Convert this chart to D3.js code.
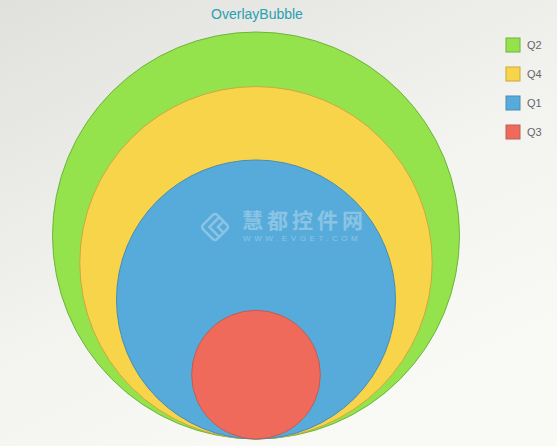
<!DOCTYPE html>
<meta charset="utf-8">
<style>
body{ margin:0; overflow:hidden; }
text{ font-family:"Liberation Sans", Arial, sans-serif; }
.title{ text-anchor:middle; font-size:14px; fill:#2aa0b3; }
.legend text{ font-size:11px; fill:#666; }
.bubble{ stroke-width:1px; }
</style>
<body>
<script src="https://d3js.org/d3.v7.min.js"></script>
<script>
var categories = ["Q1", "Q2", "Q3", "Q4"];
var values = [47, 100, 10, 75];
var colors = ["#57abda", "#95e34c", "#f06a5b", "#f8d44b"];
var strokes = ["#4a8cb3", "#6fb33c", "#b8605a", "#c9a93e"];

var width = 557, height = 446;
var cx = 256, baseY = 439, maxR = 203.5;

var svg = d3.select("body").append("svg").attr("width", width).attr("height", height);

var grad = svg.append("defs").append("linearGradient").attr("id", "bg")
    .attr("x1", "0%").attr("y1", "0%").attr("x2", "60%").attr("y2", "100%");
grad.append("stop").attr("offset", "0%").attr("stop-color", "#e0e0dc");
grad.append("stop").attr("offset", "60%").attr("stop-color", "#f3f3ef");
grad.append("stop").attr("offset", "100%").attr("stop-color", "#f9f9f6");
svg.append("rect").attr("width", width).attr("height", height).attr("fill", "url(#bg)");

svg.append("text").attr("class", "title").attr("x", 257).attr("y", 19).text("OverlayBubble");

var data = categories.map(function(c, i){
    return {name:c, value:values[i], color:colors[i], stroke:strokes[i]};
}).sort(function(a, b){ return b.value - a.value; });

var r = d3.scaleSqrt().domain([0, d3.max(values)]).range([0, maxR]);

svg.append("g").selectAll("circle").data(data).enter().append("circle")
    .attr("class", "bubble")
    .attr("cx", cx)
    .attr("cy", d=>baseY - r(d.value))
    .attr("r", d=>r(d.value))
    .attr("fill", d=>d.color)
    .attr("stroke", d=>d.stroke);

// watermark
var wm = svg.append("g").attr("opacity", 0.3).attr("fill", "#fff");
wm.append("text").attr("x", 242).attr("y", 228).style("font-size", "21px").style("font-weight", "bold")
    .style("font-family", "'Noto Sans CJK SC', sans-serif").style("letter-spacing", "4px").text("慧都控件网");
wm.append("text").attr("x", 243).attr("y", 241).style("font-size", "8px").style("letter-spacing", "3.6px").text("WWW.EVGET.COM");
var icon = wm.append("g").attr("transform", "translate(215,227) rotate(45)")
    .attr("fill", "none").attr("stroke", "#fff").attr("stroke-width", 2.5);
icon.append("rect").attr("x", -10).attr("y", -10).attr("width", 20).attr("height", 20).attr("rx", 3);
icon.append("path").attr("d", "M-4,-10 V4 H10 M2,-10 V-2 H10");
</script>
<script>
var legend = d3.select("svg").append("g").attr("class", "legend").selectAll("g")
    .data(categories.map((c, i)=>({name:c, value:values[i], color:colors[i], stroke:strokes[i]}))
        .sort((a, b)=>b.value - a.value))
    .enter().append("g")
    .attr("transform", (d, i)=>"translate(506," + (38 + i * 29) + ")");
legend.append("rect").attr("width", 14).attr("height", 14)
    .attr("fill", d=>d.color).attr("stroke", d=>d.stroke);
legend.append("text").attr("x", 21).attr("y", 11).text(d=>d.name);
</script>
</body>
</html>
